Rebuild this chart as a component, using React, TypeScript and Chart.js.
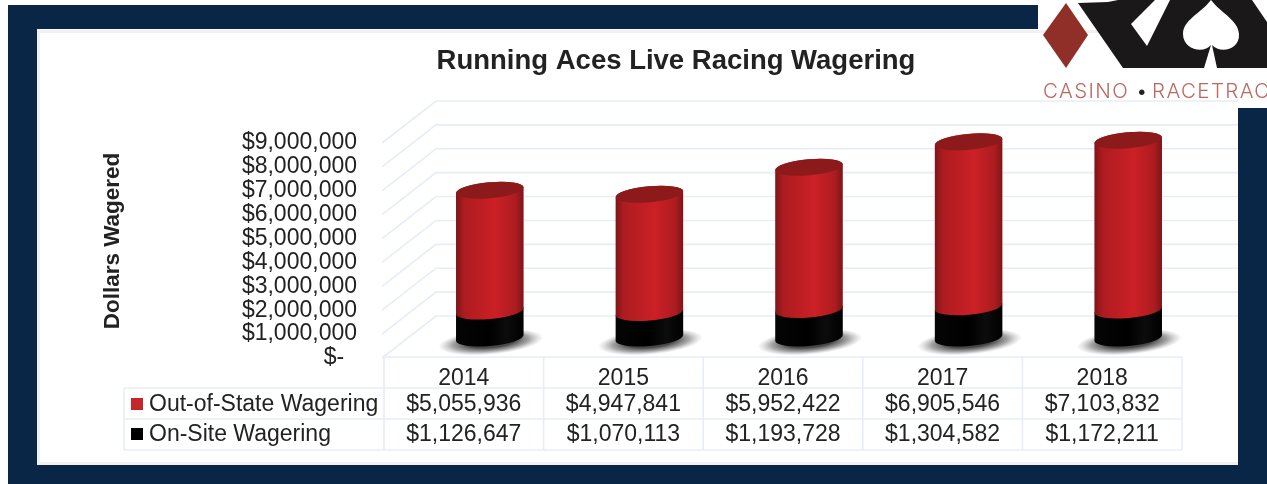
import React, { useEffect, useRef } from "react";
import { Chart, registerables } from "chart.js";

Chart.register(...registerables);

const years = ["2014", "2015", "2016", "2017", "2018"];
const outOfState = [5055936, 4947841, 5952422, 6905546, 7103832];
const onSite = [1126647, 1070113, 1193728, 1304582, 1172211];
const outLabel = "Out-of-State Wagering";
const onLabel = "On-Site Wagering";
const chartTitle = "Running Aces Live Racing Wagering";
const yTitle = "Dollars Wagered";
const FONT = '"Liberation Sans", Arial, sans-serif';
const TEXT = "#222222";
const GRID = "#e6edf9";
const NAVY = "#0a2646";
const money = (v: number) => "$" + Math.round(v).toLocaleString("en-US");

const DX = 26;
const DY = -20;
const RY = 8;
const ROT = -0.09;

function cylinder(ctx: CanvasRenderingContext2D, cx: number, top: number, base: number, rx: number, stops: [number, string][]) {
  const g = ctx.createLinearGradient(cx - rx, 0, cx + rx, 0);
  stops.forEach(([p, c]) => g.addColorStop(p, c));
  ctx.fillStyle = g;
  ctx.beginPath();
  ctx.ellipse(cx, base, rx, RY, ROT, 0, Math.PI);
  ctx.ellipse(cx, top, rx, RY, ROT, Math.PI, Math.PI * 2);
  ctx.closePath();
  ctx.fill();
}

const scene = {
  id: "scene",
  beforeDraw(chart: any) {
    const c: CanvasRenderingContext2D = chart.ctx;
    c.save();
    c.fillStyle = "#ffffff";
    c.fillRect(0, 0, 1267, 484);
    c.fillStyle = NAVY;
    c.fillRect(8, 5, 1259, 479);
    c.fillStyle = "#ffffff";
    c.fillRect(37, 29, 1201, 436);
    c.fillRect(1038, 0, 229, 108);
    c.fillStyle = "#f1f1f1";
    c.fillRect(37, 30, 1230, 3);
    c.fillRect(37, 462, 1201, 3);
    c.fillRect(37, 29, 3, 436);
    // logo
    c.fillStyle = "#8f2f28";
    c.beginPath();
    c.moveTo(1066, 3);
    c.lineTo(1088, 35);
    c.lineTo(1066, 68);
    c.lineTo(1043, 35);
    c.closePath();
    c.fill();
    c.fillStyle = "#1a1818";
    c.beginPath();
    c.moveTo(1078, 3);
    c.lineTo(1108, 2);
    c.lineTo(1118, 0);
    c.lineTo(1252, 0);
    c.lineTo(1267, 22);
    c.lineTo(1267, 68);
    c.lineTo(1123, 68);
    c.closePath();
    c.fill();
    c.fillStyle = "#ffffff";
    c.beginPath();
    c.moveTo(1131, 24);
    c.lineTo(1155, 0);
    c.lineTo(1170, 0);
    c.lineTo(1147, 46);
    c.closePath();
    c.fill();
    c.beginPath();
    c.moveTo(1211, 0);
    c.bezierCurveTo(1200, 14, 1183, 20, 1183, 34);
    c.bezierCurveTo(1183, 50, 1204, 54, 1211, 45);
    c.lineTo(1204, 68);
    c.lineTo(1217, 68);
    c.lineTo(1212, 45);
    c.bezierCurveTo(1220, 54, 1240, 50, 1239, 34);
    c.bezierCurveTo(1238, 20, 1222, 14, 1211, 0);
    c.closePath();
    c.fill();
    c.fillStyle = "#b9695e";
    c.font = "300 20.5px Inter, sans-serif";
    c.textBaseline = "middle";
    c.textAlign = "left";
    (c as any).letterSpacing = "1.4px";
    c.fillText("CASINO", 1043, 92);
    c.fillStyle = "#222222";
    c.fillText("•", 1136, 92);
    c.fillStyle = "#b9695e";
    c.fillText("RACETRACK", 1152, 92);
    (c as any).letterSpacing = "0px";
    c.restore();
  },
  afterLayout(chart: any) {
    chart.titleBlock.left = 85;
    chart.titleBlock.right = 1267;
  },
  beforeDatasetsDraw(chart: any) {
    const c: CanvasRenderingContext2D = chart.ctx;
    const y = chart.scales.y;
    const { left } = chart.chartArea;
    c.save();
    c.strokeStyle = GRID;
    c.lineWidth = 1.6;
    y.ticks.forEach((t: any) => {
      const py = y.getPixelForValue(t.value);
      c.beginPath();
      c.moveTo(left - 2, py);
      c.lineTo(left + 52, py - 42);
      c.lineTo(1238, py - 42);
      c.stroke();
    });
    c.restore();
  },
  beforeDatasetDraw() {
    return false;
  },
  afterDatasetsDraw(chart: any) {
    const c: CanvasRenderingContext2D = chart.ctx;
    const black = chart.getDatasetMeta(0).data;
    const red = chart.getDatasetMeta(1).data;
    c.save();
    black.forEach((b: any, i: number) => {
      const r = red[i];
      const cx = b.x + DX;
      const rx = b.width / 2;
      const base = b.base + DY;
      // ground shadow
      c.save();
      c.translate(cx + 1, base + 4);
      c.rotate(ROT);
      c.scale(1, 0.24);
      const sh = c.createRadialGradient(0, 0, rx * 0.7, 0, 0, rx * 1.55);
      sh.addColorStop(0, "rgba(40,40,40,0.85)");
      sh.addColorStop(0.5, "rgba(90,90,90,0.55)");
      sh.addColorStop(1, "rgba(140,140,140,0)");
      c.fillStyle = sh;
      c.beginPath();
      c.arc(0, 0, rx * 1.55, 0, Math.PI * 2);
      c.fill();
      c.restore();
      cylinder(c, cx, b.y + DY, base, rx, [
        [0, "#050505"],
        [0.5, "#000000"],
        [0.75, "#0c0c0c"],
        [1, "#000000"],
      ]);
      cylinder(c, cx, r.y + DY, b.y + DY, rx, [
        [0, "#7d1518"],
        [0.12, "#ad1c20"],
        [0.58, "#cb2026"],
        [0.88, "#ad1c20"],
        [1, "#7d1518"],
      ]);
      c.fillStyle = "#8d1a1b";
      c.beginPath();
      c.ellipse(cx, r.y + DY, rx, RY, ROT, 0, Math.PI * 2);
      c.fill();
    });
    c.restore();
  },
  afterDraw(chart: any) {
    const c: CanvasRenderingContext2D = chart.ctx;
    const x = chart.scales.x;
    const { left, right, bottom } = chart.chartArea;
    const top = bottom - 1;
    const rows = [388, 419, 450];
    const labelLeft = 124;
    c.save();
    c.strokeStyle = GRID;
    c.lineWidth = 1.6;
    c.beginPath();
    c.moveTo(left, top);
    c.lineTo(right, top);
    rows.forEach((ry) => {
      c.moveTo(labelLeft, ry);
      c.lineTo(right, ry);
    });
    c.moveTo(labelLeft, rows[0]);
    c.lineTo(labelLeft, rows[2]);
    years.forEach((_, i) => {
      const px = x.getPixelForValue(i) - (right - left) / years.length / 2;
      c.moveTo(px, top);
      c.lineTo(px, rows[2]);
    });
    c.moveTo(right, top);
    c.lineTo(right, rows[2]);
    c.stroke();

    c.font = `23px ${FONT}`;
    c.fillStyle = TEXT;
    c.textBaseline = "middle";
    c.textAlign = "center";
    const rowsData: [string, number[], string, number][] = [
      [outLabel, outOfState, "#c6252a", 405],
      [onLabel, onSite, "#000000", 435],
    ];
    rowsData.forEach(([label, vals, color, ty]) => {
      c.fillStyle = TEXT;
      c.textAlign = "center";
      vals.forEach((v, i) => c.fillText(money(v), x.getPixelForValue(i), ty));
      c.textAlign = "left";
      c.fillText(label, 149, ty);
      c.fillStyle = color;
      c.fillRect(131, ty - 7, 12, 12);
    });

    c.save();
    c.translate(113, 241);
    c.rotate(-Math.PI / 2);
    c.font = `bold 22.5px ${FONT}`;
    c.fillStyle = TEXT;
    c.textAlign = "center";
    c.fillText(yTitle, 0, 0);
    c.restore();
    c.restore();
  },
};

export default function App() {
  const ref = useRef<HTMLCanvasElement>(null);
  useEffect(() => {
    const chart = new Chart(ref.current as HTMLCanvasElement, {
      type: "bar",
      data: {
        labels: years,
        datasets: [
          { label: onLabel, data: onSite, backgroundColor: "#000000", categoryPercentage: 1, barPercentage: 0.425 },
          { label: outLabel, data: outOfState, backgroundColor: "#c6252a", categoryPercentage: 1, barPercentage: 0.425 },
        ],
      },
      options: {
        responsive: false,
        animation: false,
        layout: { padding: { left: 0, right: 85, top: 0, bottom: 0 } },
        plugins: {
          legend: { display: false },
          tooltip: { enabled: false },
          title: {
            display: true,
            text: chartTitle,
            color: TEXT,
            font: { family: FONT, size: 27.5, weight: "bold", lineHeight: 1.2 },
            padding: { top: 44.5, bottom: 65.5 },
          },
        },
        scales: {
          x: {
            stacked: true,
            afterFit: (s: any) => {
              s.height = 126;
            },
            grid: { display: false },
            border: { display: false },
            ticks: { color: TEXT, padding: -1, font: { family: FONT, size: 23 }, maxRotation: 0 },
          },
          y: {
            stacked: true,
            min: 0,
            max: 9000000,
            afterFit: (s: any) => {
              s.width = 384;
            },
            grid: { display: false },
            border: { display: false },
            ticks: {
              stepSize: 1000000,
              autoSkip: false,
              color: TEXT,
              padding: 19,
              font: { family: FONT, size: 23 },
              callback: (v: any) => (Number(v) === 0 ? "$-  " : money(Number(v))),
            },
          },
        },
      },
      plugins: [scene],
    } as any);
    return () => chart.destroy();
  }, []);
  return (
    <div style={{ position: "fixed", left: 0, top: 0, width: 1267, height: 484 }}>
      <canvas ref={ref} width={1267} height={484} style={{ display: "block", filter: "blur(0.7px)" }} />
    </div>
  );
}
